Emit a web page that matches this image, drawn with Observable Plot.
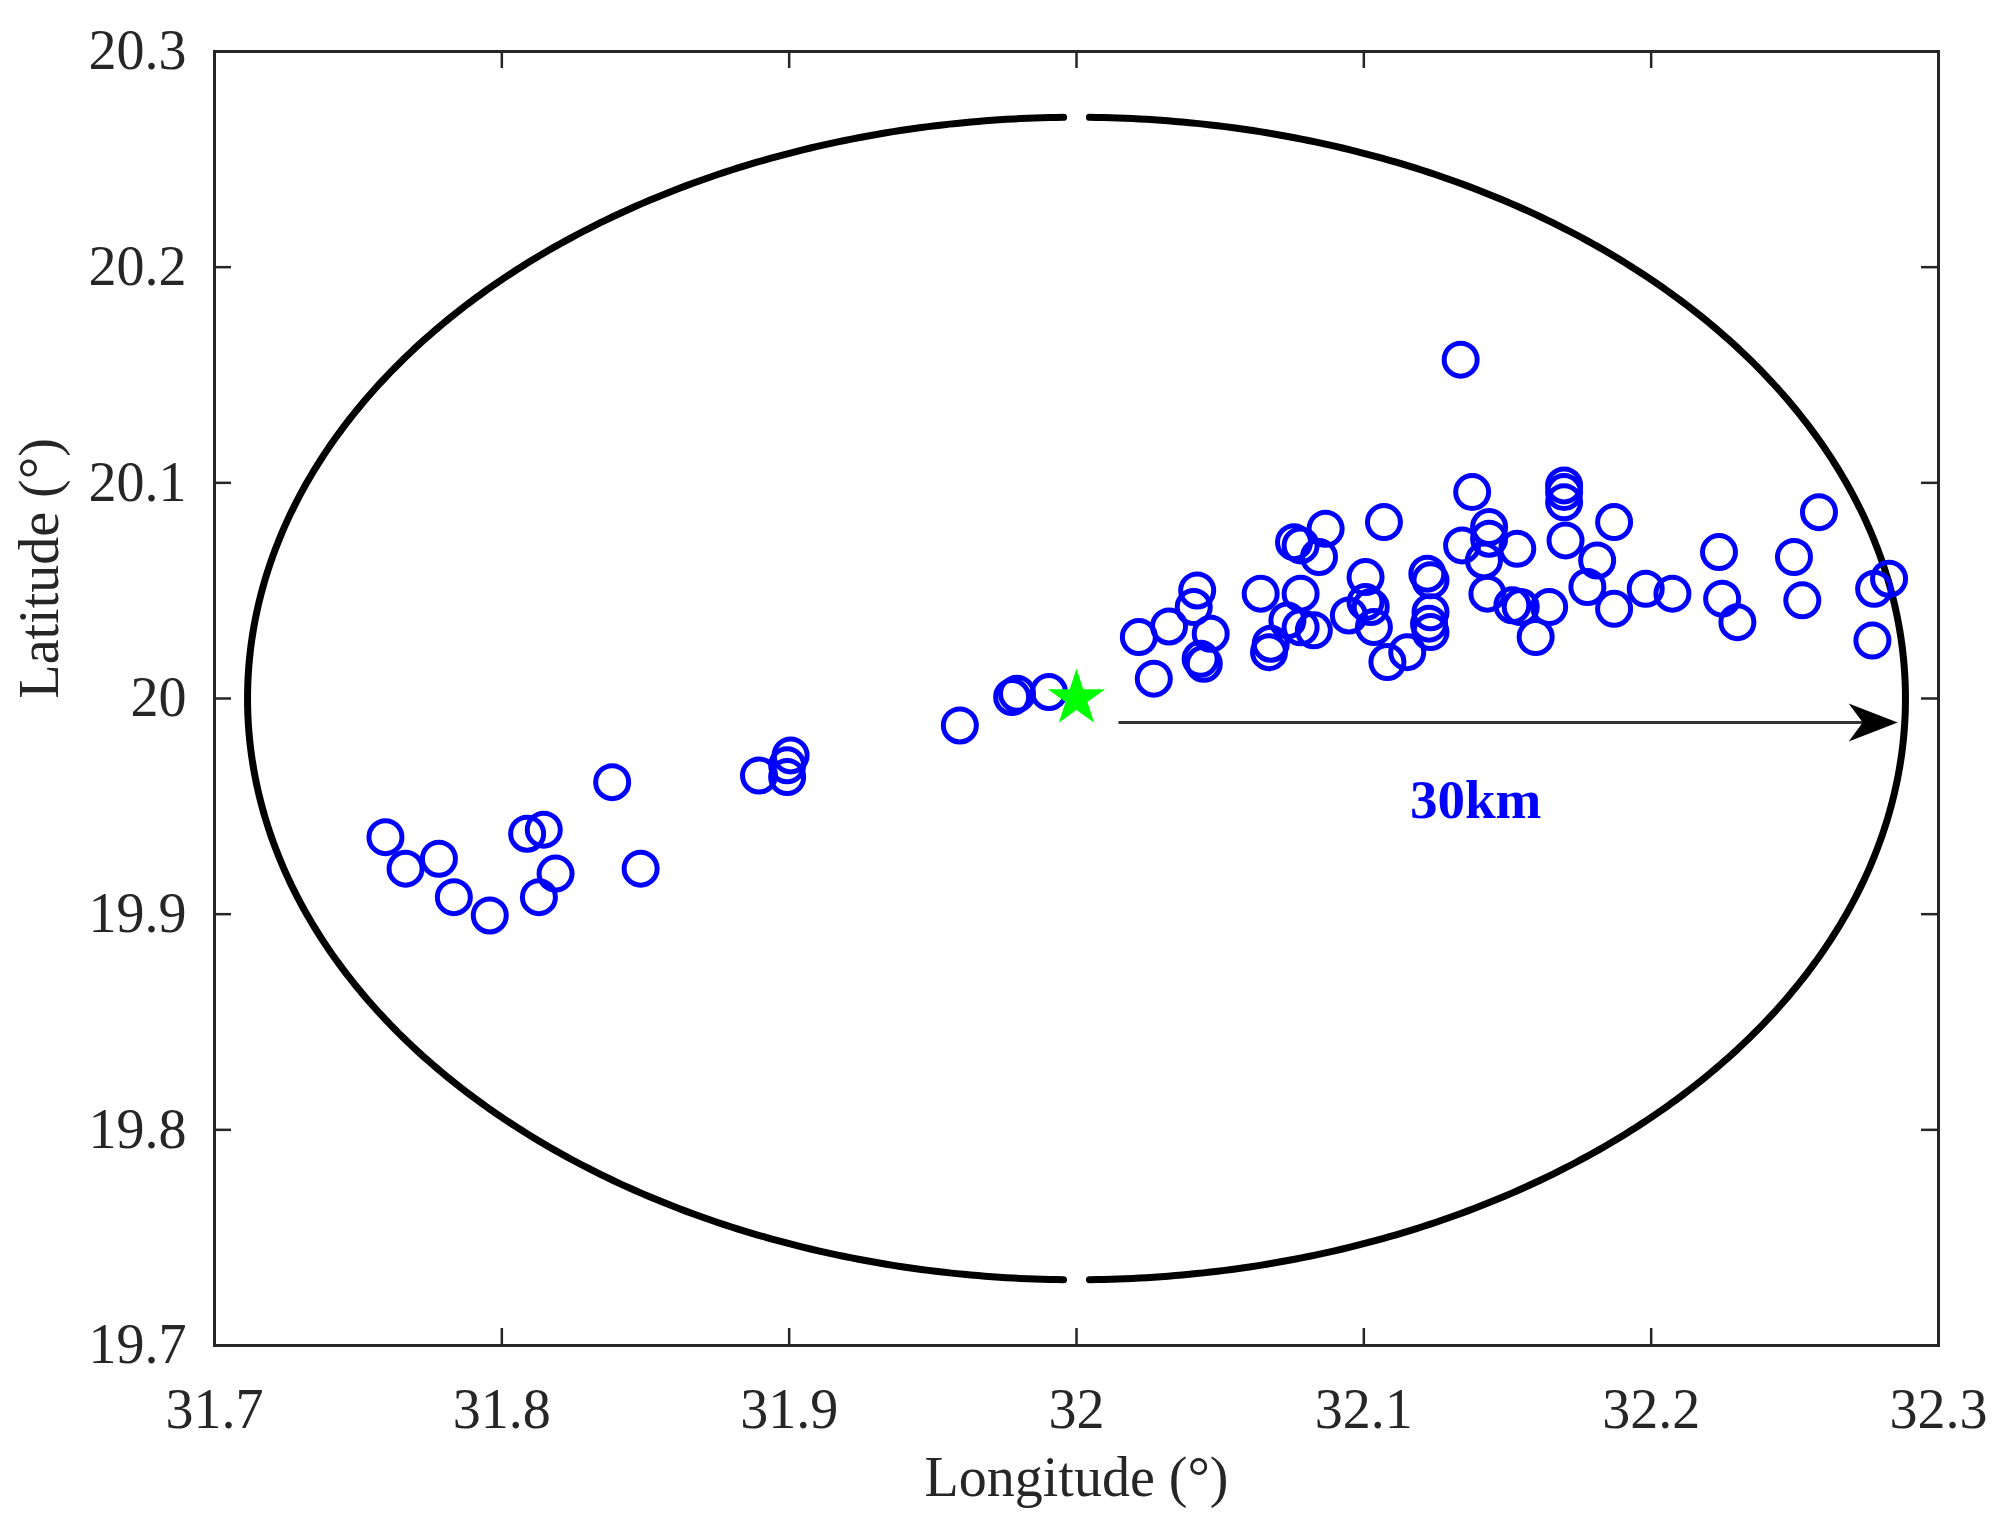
<!DOCTYPE html>
<html>
<head>
<meta charset="utf-8">
<script src="https://cdn.jsdelivr.net/npm/d3@7"></script>
<script src="https://cdn.jsdelivr.net/npm/@observablehq/plot@0.6"></script>
<style>
  html, body { margin: 0; padding: 0; background: #ffffff; }
</style>
</head>
<body>
<div id="chart"></div>
<script>
// ---- Data ----
const lonEvents = [
  31.7595, 31.7665, 31.7781, 31.7833, 31.7958, 31.8088, 31.8146, 31.8187, 31.8129, 31.8384,
  31.8483, 31.8895, 31.8993, 31.9005, 31.8993, 31.9594, 31.9776, 31.9793, 31.9904,
  32.1337,
  32.0217, 32.0269, 32.0322, 32.0420, 32.0408, 32.0467, 32.0432, 32.0443,
  32.0641, 32.0676, 32.0670, 32.0734, 32.0780, 32.0826, 32.0780,
  32.0757, 32.0780, 32.0867, 32.0844,
  32.1070, 32.1006, 32.1006, 32.0948, 32.1035, 32.1024, 32.1082, 32.1151,
  32.1221, 32.1232, 32.1232, 32.1227, 32.1232,
  32.1377, 32.1342, 32.1436, 32.1418, 32.1436, 32.1430,
  32.1697, 32.1697, 32.1697, 32.1702, 32.1871, 32.1812, 32.1778, 32.1871, 32.1981, 32.2074,
  32.1534, 32.1517, 32.1546, 32.1645, 32.1598,
  32.2236, 32.2247, 32.2300, 32.2497, 32.2584, 32.2526, 32.2776, 32.2828, 32.2770
];
const latEvents = [
  19.9357, 19.9211, 19.9257, 19.9079, 19.8994, 19.9373, 19.9392, 19.9188, 19.9079, 19.9612,
  19.9211, 19.9643, 19.9636, 19.9736, 19.9690, 19.9875, 20.0007, 20.0022, 20.0030,
  20.1571,
  20.0285, 20.0092, 20.0334, 20.0501, 20.0424, 20.0300, 20.0184, 20.0161,
  20.0486, 20.0254, 20.0215, 20.0362, 20.0486, 20.0316, 20.0330,
  20.0725, 20.0710, 20.0787, 20.0656,
  20.0818, 20.0563, 20.0447, 20.0385, 20.0331, 20.0424, 20.0169, 20.0215,
  20.0579, 20.0548, 20.0400, 20.0347, 20.0308,
  20.0957, 20.0710, 20.0795, 20.0640, 20.0741, 20.0486,
  20.0988, 20.0957, 20.0910, 20.0733, 20.0818, 20.0640, 20.0517, 20.0416, 20.0509, 20.0486,
  20.0694, 20.0432, 20.0424, 20.0424, 20.0285,
  20.0679, 20.0463, 20.0354, 20.0656, 20.0864, 20.0455, 20.0509, 20.0555, 20.0269
];

// Station (green star) and 30 km range ellipse
const stationLon = 32.0;
const stationLat = 20.0;
const rangeLonRadius = 0.2885;  // 30 km in longitude degrees
const rangeLatRadius = 0.2695;  // 30 km in latitude degrees
const gapLon = 0.0045;          // small gap at top / bottom of the ellipse

// 30 km arrow and label
const arrowLon = [32.0146, 32.2858];
const arrowLat = 19.9889;
const arrowLabel = "30km";
const arrowLabelLon = 32.1389;
const arrowLabelLat = 19.9527;

// Axes
const xTicks = [31.7, 31.8, 31.9, 32.0, 32.1, 32.2, 32.3];
const xTickLabels = ["31.7", "31.8", "31.9", "32", "32.1", "32.2", "32.3"];
const yTicks = [19.7, 19.8, 19.9, 20.0, 20.1, 20.2, 20.3];
const yTickLabels = ["19.7", "19.8", "19.9", "20", "20.1", "20.2", "20.3"];
const xLabel = "Longitude (°)";
const yLabel = "Latitude (°)";

// ---- Build tables ----
const events = lonEvents.map((lon, i) => ({lon, lat: latEvents[i]}));

const delta = Math.asin(gapLon / rangeLonRadius);
const ellipse = [];
const N = 360;
for (let k = 0; k <= N; k++) {
  const t = -Math.PI / 2 + delta + (Math.PI - 2 * delta) * k / N;
  ellipse.push({seg: "right", lon: stationLon + rangeLonRadius * Math.cos(t), lat: stationLat + rangeLatRadius * Math.sin(t)});
}
for (let k = 0; k <= N; k++) {
  const t = Math.PI / 2 + delta + (Math.PI - 2 * delta) * k / N;
  ellipse.push({seg: "left", lon: stationLon + rangeLonRadius * Math.cos(t), lat: stationLat + rangeLatRadius * Math.sin(t)});
}

const arrowHead = {
  draw(context) {
    context.moveTo(0, 0);
    context.lineTo(-49, -19);
    context.lineTo(-35, 0);
    context.lineTo(-49, 19);
    context.closePath();
  }
};

const W = 2009, H = 1539;
const mL = 214, mR = 71, mT = 51, mB = 194;
const fw = W - mL - mR, fh = H - mT - mB;
const tickLen = 17;
const ink = "#262626";
const font = "'Liberation Serif', 'Times New Roman', Times, serif";

const chart = Plot.plot({
  width: W,
  height: H,
  marginLeft: mL,
  marginRight: mR,
  marginTop: mT,
  marginBottom: mB,
  style: {fontFamily: font, fontSize: "56px", color: ink, background: "#ffffff"},
  x: {domain: [31.7, 32.3], label: null},
  y: {domain: [19.7, 20.3], label: null},
  marks: [
    Plot.axisX({ticks: xTicks, tickSize: 0, tickPadding: 43, tickFormat: d => xTickLabels[xTicks.indexOf(d)], label: null, fontSize: 56}),
    Plot.axisY({ticks: yTicks, tickSize: 0, tickPadding: 28, tickFormat: d => yTickLabels[yTicks.indexOf(d)], label: null, fontSize: 56}),
    Plot.tickX(xTicks, {x: d => d, insetTop: fh - tickLen, stroke: ink, strokeWidth: 2.5}),
    Plot.tickX(xTicks, {x: d => d, insetBottom: fh - tickLen, stroke: ink, strokeWidth: 2.5}),
    Plot.tickY(yTicks, {y: d => d, insetRight: fw - tickLen, stroke: ink, strokeWidth: 2.5}),
    Plot.tickY(yTicks, {y: d => d, insetLeft: fw - tickLen, stroke: ink, strokeWidth: 2.5}),
    Plot.line(ellipse, {x: "lon", y: "lat", z: "seg", stroke: "#000000", strokeWidth: 7, curve: "linear"}),
    Plot.dot(events, {x: "lon", y: "lat", r: 16.5, stroke: "#0000ff", strokeWidth: 5, fill: "none"}),
    Plot.link([{x1: arrowLon[0], x2: arrowLon[1] - 0.008, y: arrowLat}], {x1: "x1", x2: "x2", y1: "y", y2: "y", stroke: "#333333", strokeWidth: 3}),
    Plot.dot([{x: arrowLon[1], y: arrowLat}], {x: "x", y: "y", symbol: arrowHead, r: 10, fill: "#000000", stroke: "none"}),
    Plot.text([arrowLabel], {x: () => arrowLabelLon, y: () => arrowLabelLat, text: d => d, fill: "#0000ff", fontWeight: "bold", fontSize: 55}),
    Plot.dot([{x: stationLon, y: stationLat}], {x: "x", y: "y", symbol: "star", r: 18, fill: "#00ff00", stroke: "none"}),
    Plot.text([xLabel], {frameAnchor: "bottom", dy: 150, text: d => d, fill: ink, fontSize: 56}),
    Plot.text([yLabel], {frameAnchor: "left", dx: -174, rotate: -90, text: d => d, fill: ink, fontSize: 56}),
    Plot.frame({stroke: ink, strokeWidth: 3})
  ]
});
document.getElementById("chart").appendChild(chart);
</script>
</body>
</html>
